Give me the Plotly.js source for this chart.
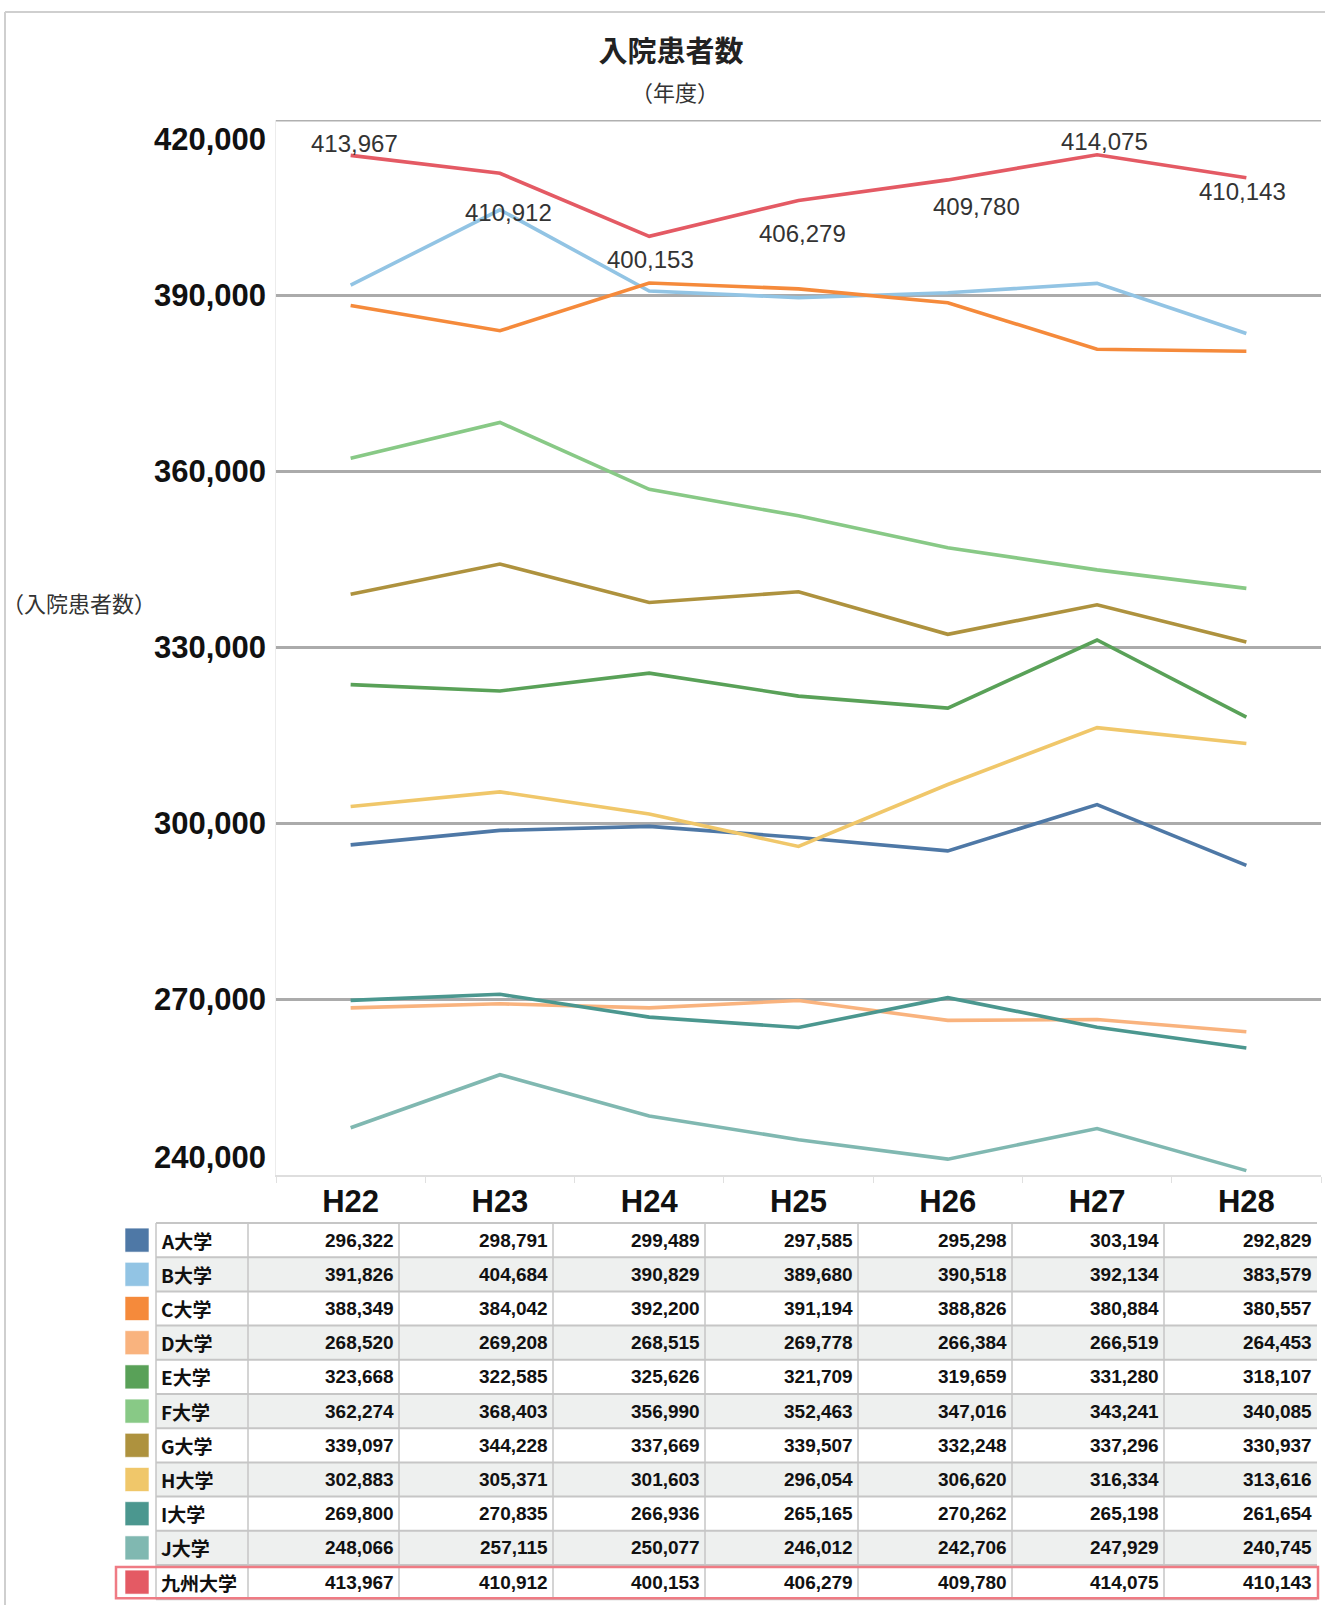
<!DOCTYPE html>
<html>
<head>
<meta charset="utf-8">
<script src="https://cdn.plot.ly/plotly-3.0.1.min.js"></script>
<style>
html,body{margin:0;padding:0;background:#ffffff;}
#chart{width:1325px;height:1605px;}
</style>
</head>
<body>
<div id="chart"></div>
<script>
// ---------- DATA ----------
const years = ['H22', 'H23', 'H24', 'H25', 'H26', 'H27', 'H28'];
const universities = ['A大学', 'B大学', 'C大学', 'D大学', 'E大学', 'F大学', 'G大学', 'H大学', 'I大学', 'J大学', '九州大学'];
const valuesA = [296322, 298791, 299489, 297585, 295298, 303194, 292829];
const valuesB = [391826, 404684, 390829, 389680, 390518, 392134, 383579];
const valuesC = [388349, 384042, 392200, 391194, 388826, 380884, 380557];
const valuesD = [268520, 269208, 268515, 269778, 266384, 266519, 264453];
const valuesE = [323668, 322585, 325626, 321709, 319659, 331280, 318107];
const valuesF = [362274, 368403, 356990, 352463, 347016, 343241, 340085];
const valuesG = [339097, 344228, 337669, 339507, 332248, 337296, 330937];
const valuesH = [302883, 305371, 301603, 296054, 306620, 316334, 313616];
const valuesI = [269800, 270835, 266936, 265165, 270262, 265198, 261654];
const valuesJ = [248066, 257115, 250077, 246012, 242706, 247929, 240745];
const valuesKyushu = [413967, 410912, 400153, 406279, 409780, 414075, 410143];
const yTickValues = [240000, 270000, 300000, 330000, 360000, 390000, 420000];
const chartTitle = '入院患者数';
const chartSubtitle = '（年度）';
const yAxisTitle = '（入院患者数）';

// ---------- STYLE ----------
const seriesColors = ['#4e78a6', '#92c4e4', '#f58a3b', '#f9b37e', '#59a158', '#88c986',
                      '#ae923e', '#f0c76a', '#4b978f', '#80b8b1', '#e45a64'];
const labelShiftX = [4, 9, 1, 4, 29, 7, -4];
const labelShiftY = [12, -39, -23, -33, -27, 13, -14];

const allSeries = [valuesA, valuesB, valuesC, valuesD, valuesE, valuesF, valuesG,
                   valuesH, valuesI, valuesJ, valuesKyushu];

const W = 1325, H = 1605;
const PL = 276, PR = 1321, PT = 120, PB = 1175;
const px = x => (x - PL) / (PR - PL);
const py = y => (PB - y) / (PB - PT);
const fmt = v => v.toLocaleString('en-US');

const boldSans = 'Liberation Sans Narrow, Liberation Sans, Arial, sans-serif';
const sans = 'Liberation Sans, Arial, sans-serif';
const cjk = 'Noto Sans CJK JP, sans-serif';

// ---------- TRACES ----------
const traces = allSeries.map((vals, i) => ({
  type: 'scatter', mode: 'lines', x: years, y: vals, name: universities[i],
  line: {color: seriesColors[i], width: 3.6}, hoverinfo: 'skip', cliponaxis: false
}));

// ---------- ANNOTATIONS ----------
const annotations = [];
valuesKyushu.forEach((v, i) => {
  annotations.push({
    x: years[i], y: v, xref: 'x', yref: 'y', text: fmt(v), showarrow: false,
    xanchor: 'center', yanchor: 'middle', xshift: labelShiftX[i], yshift: labelShiftY[i],
    font: {family: sans, size: 24, color: '#333333'}
  });
});
const yMin = Math.min(...yTickValues), yMax = Math.max(...yTickValues);
yTickValues.forEach(v => {
  annotations.push({
    x: px(268), xref: 'paper', y: v, yref: 'y', text: fmt(v), showarrow: false,
    xanchor: 'right', yanchor: 'middle',
    yshift: v === yMax ? -19 : (v === yMin ? 18 : 0),
    font: {family: boldSans, size: 31, color: '#111111', weight: 'bold'}
  });
});
annotations.push({
  x: px(79), xref: 'paper', y: py(602), yref: 'paper', text: yAxisTitle, showarrow: false,
  xanchor: 'center', yanchor: 'middle', font: {family: cjk, size: 22, color: '#333333'}
});
annotations.push({
  x: px(675), xref: 'paper', y: py(91), yref: 'paper', text: chartSubtitle, showarrow: false,
  xanchor: 'center', yanchor: 'middle', font: {family: cjk, size: 22, color: '#333333'}
});

// ---------- TABLE ----------
const shapes = [];
const tableTop = 1223, rowH = 34.2;
const colEdges = [156, 248, 399, 553, 705, 858, 1012, 1164, 1317];
const lineCol = '#c6c6c6';

universities.forEach((name, r) => {
  const y0 = tableTop + r * rowH, y1 = y0 + rowH, yc = (y0 + y1) / 2;
  if (r % 2 === 1) {
    shapes.push({type: 'rect', xref: 'paper', yref: 'paper', layer: 'below',
      x0: px(156), x1: px(1317), y0: py(y0), y1: py(y1),
      fillcolor: '#eef0ef', line: {width: 0}});
  }
  shapes.push({type: 'rect', xref: 'paper', yref: 'paper',
    x0: px(125), x1: px(149), y0: py(yc - 12), y1: py(yc + 12),
    fillcolor: seriesColors[r], line: {color: 'rgba(255,255,255,0.6)', width: 1}});
  annotations.push({
    x: px(159), xref: 'paper', y: py(yc), yref: 'paper', text: name, showarrow: false,
    xanchor: 'left', yanchor: 'middle', font: {family: cjk, size: 19, color: '#111111', weight: 'bold'}
  });
  allSeries[r].forEach((v, c) => {
    annotations.push({
      x: px(colEdges[c + 2] - 3), xref: 'paper', y: py(yc), yref: 'paper', text: fmt(v),
      showarrow: false, xanchor: 'right', yanchor: 'middle',
      font: {family: sans, size: 19, color: '#111111', weight: 'bold'}
    });
  });
});
for (let r = 0; r <= universities.length; r++) {
  const y = tableTop + r * rowH;
  shapes.push({type: 'line', xref: 'paper', yref: 'paper',
    x0: px(156), x1: px(1317), y0: py(y), y1: py(y), line: {color: lineCol, width: 2}});
}
colEdges.slice(0, 8).forEach(x => {
  shapes.push({type: 'line', xref: 'paper', yref: 'paper',
    x0: px(x), x1: px(x), y0: py(tableTop), y1: py(tableTop + universities.length * rowH),
    line: {color: lineCol, width: 1.5}});
});
const lastTop = tableTop + (universities.length - 1) * rowH;
shapes.push({type: 'rect', xref: 'paper', yref: 'paper',
  x0: px(116), x1: px(1318), y0: py(lastTop + 2), y1: py(lastTop + rowH - 1),
  line: {color: '#ef7b84', width: 2.5}, fillcolor: 'rgba(0,0,0,0)'});

// top gridline at the range maximum
shapes.push({type: 'line', xref: 'paper', yref: 'y', layer: 'below',
  x0: 0, x1: 1, y0: yMax, y1: yMax, line: {color: '#b0b0b0', width: 3}});

// outer frame (top & left)
shapes.push({type: 'line', xref: 'paper', yref: 'paper',
  x0: px(5), x1: px(1325), y0: py(12), y1: py(12), line: {color: '#cfcfcf', width: 2}});
shapes.push({type: 'line', xref: 'paper', yref: 'paper',
  x0: px(5), x1: px(5), y0: py(12), y1: py(1605), line: {color: '#cfcfcf', width: 2}});

// ---------- LAYOUT ----------
const layout = {
  width: W, height: H,
  margin: {l: PL, r: W - PR, t: PT, b: H - PB, pad: 0},
  paper_bgcolor: '#ffffff', plot_bgcolor: '#ffffff',
  showlegend: false,
  title: {text: chartTitle, x: 671 / W, xanchor: 'center', y: 1 - 52 / H, yanchor: 'middle',
          font: {family: cjk, size: 29, color: '#222222', weight: 'bold'}},
  xaxis: {
    type: 'category', categoryorder: 'array', categoryarray: years, range: [-0.5, 6.5],
    tickson: 'boundaries', ticks: 'outside', ticklen: 6, tickwidth: 1, tickcolor: '#e0e0e0',
    showline: true, linecolor: '#dedede', linewidth: 2, showgrid: false, zeroline: false,
    tickfont: {family: boldSans, size: 31, color: '#111111', weight: 'bold'},
    ticklabelstandoff: -2,
    fixedrange: true
  },
  yaxis: {
    range: [yMin, yMax], tickmode: 'array', tickvals: yTickValues.filter(v => v !== yMin && v !== yMax),
    showticklabels: false, ticks: '', showgrid: true, gridcolor: '#ababab', gridwidth: 3.2,
    showline: true, linecolor: '#ececec', linewidth: 1, zeroline: false, fixedrange: true
  },
  annotations: annotations,
  shapes: shapes
};

Plotly.newPlot('chart', traces, layout, {displayModeBar: false, staticPlot: true});
</script>
</body>
</html>
